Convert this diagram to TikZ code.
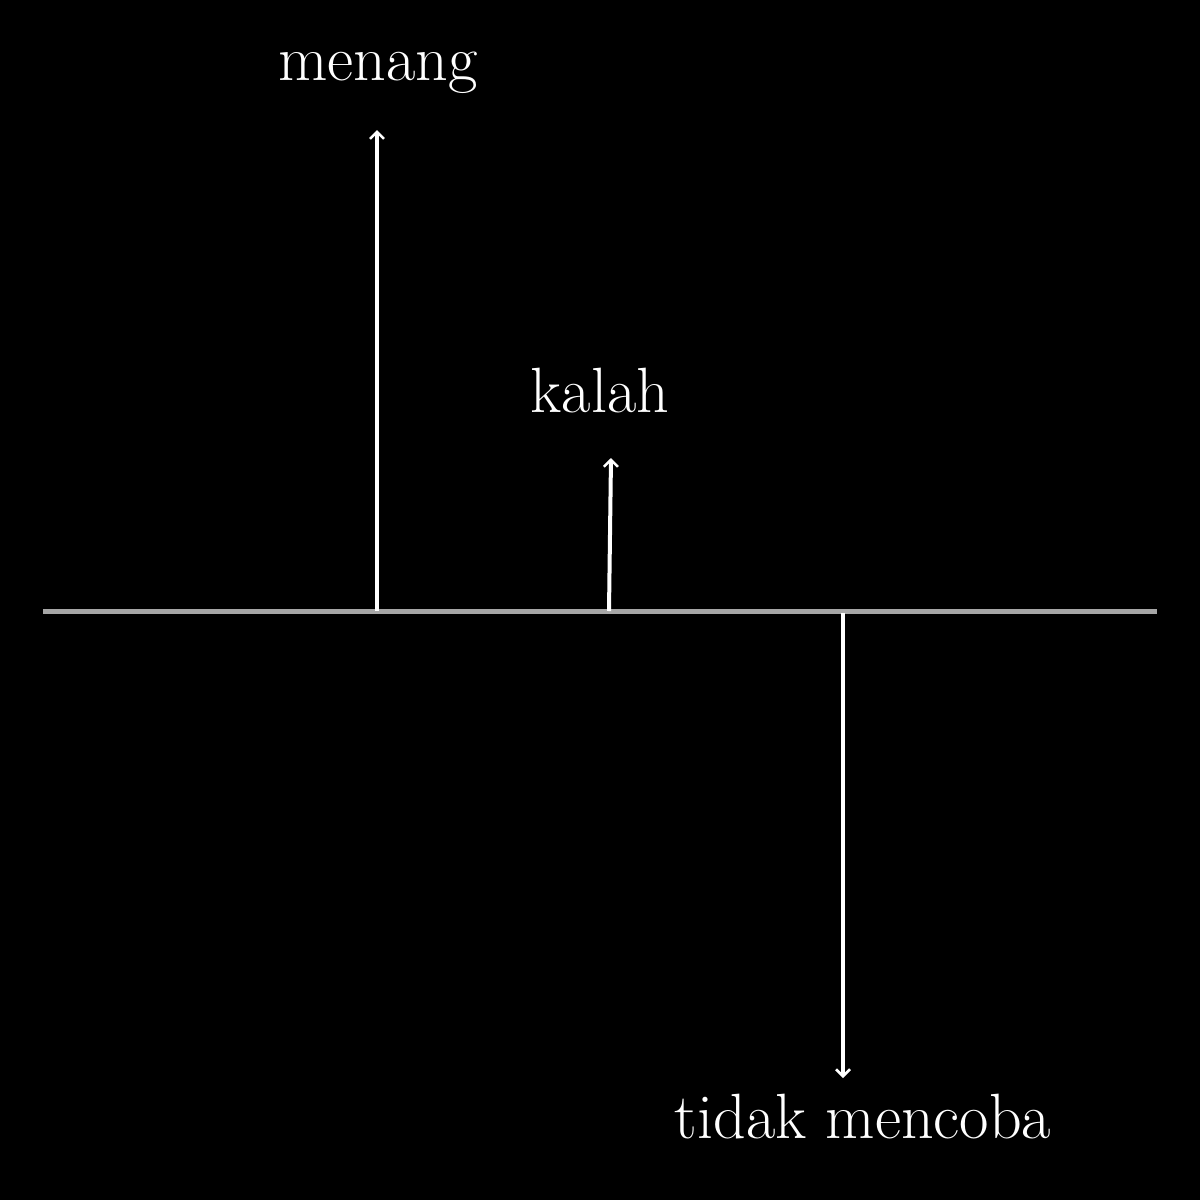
\documentclass[tikz,border=0pt]{standalone}
\usetikzlibrary{arrows.meta}
\begin{document}
\begin{tikzpicture}[x=1pt,y=-1pt,
  lbl/.style={text=white,font=\fontsize{64}{66}\selectfont,inner sep=0pt,anchor=base},
  up/.style={draw=white,line width=4pt,-{Straight Barb[length=7pt,width=14pt,line width=2.5pt]}},
  axis/.style={draw=black!35!white,line width=5pt}]
\fill[black] (0,0) rectangle (1200,1200);
\useasboundingbox (0,0) rectangle (1200,1200);
\coordinate (L) at (43,611);
\coordinate (R) at (1157,611);
\coordinate (b1) at (377,611);
\coordinate (t1) at (377,130);
\coordinate (b2) at (609,611);
\coordinate (t2) at (611,458);
\coordinate (b3) at (843,613);
\coordinate (t3) at (843,1078);
\draw[axis] (L) -- (R);
\draw[up] (b1) -- (t1);
\draw[up] (b2) -- (t2);
\draw[up] (b3) -- (t3);
\node[lbl] (menang) at (378,80) {menang};
\node[lbl] (kalah) at (600,412) {kalah};
\node[lbl] (tidak) at (863,1138) {tidak mencoba};
\end{tikzpicture}
\end{document}
